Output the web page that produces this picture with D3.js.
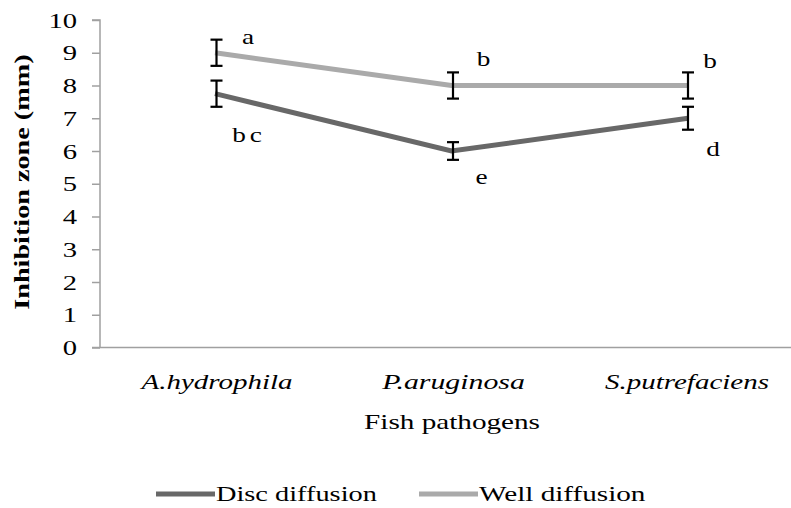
<!DOCTYPE html>
<html><head><meta charset="utf-8">
<script src="https://cdn.jsdelivr.net/npm/d3@7"></script>
<style>body{margin:0;background:#fff}svg{display:block}</style>
</head><body><svg id="c" width="791" height="508"></svg>
<script>
const categories = ["A.hydrophila", "P.aruginosa", "S.putrefaciens"];
const discValues = [7.75, 6.0, 7.0];
const discErrors = [0.4, 0.27, 0.35];
const discLetters = ["bc", "e", "d"];
const wellValues = [9.0, 8.0, 8.0];
const wellErrors = [0.4, 0.4, 0.4];
const wellLetters = ["a", "b", "b"];
const yTicks = [0,1,2,3,4,5,6,7,8,9,10];
const seriesNames = ["Disc diffusion", "Well diffusion"];

const svg = d3.select("#c");
const font = "Liberation Serif";
const SX = 1.33;
const x = d3.scalePoint().domain(categories).range([215, 688]);
const y = d3.scaleLinear().domain([0, 10]).range([347.5, 20]);

function txt(px, py, s, opts = {}) {
  return svg.append("text")
    .attr("transform", `translate(${px},${py}) scale(${opts.sx || SX},1)`)
    .attr("text-anchor", opts.anchor || "middle")
    .style("font-family", font).style("font-size", (opts.size || 21) + "px")
    .style("font-style", opts.italic ? "italic" : "normal")
    .style("font-weight", opts.bold ? "bold" : "normal")
    .style("letter-spacing", (opts.ls || 0) + "px")
    .style("fill", "#000")
    .text(s);
}

const series = [
  {name: seriesNames[0], values: discValues, errors: discErrors, letters: discLetters, color: "#686868"},
  {name: seriesNames[1], values: wellValues, errors: wellErrors, letters: wellLetters, color: "#aaaaaa"}
];

// y axis
const yAxis = d3.axisLeft(y).tickValues(yTicks).tickSize(8).tickFormat(d3.format("d"));
const gy = svg.append("g").attr("transform", "translate(100,0)").call(yAxis);
gy.select(".domain").attr("stroke", "#a0a0a0").attr("stroke-width", 1.5).attr("d", `M-8,${y(10)}H0V${y(0)}`);
gy.selectAll(".tick line").attr("stroke", "#a0a0a0").attr("stroke-width", 1.5);
gy.selectAll(".tick text").remove();
yTicks.forEach(v => txt(77, y(v) + 7.5, String(v), {anchor: "end", size: 22, sx: 1.3}));

// x axis line
svg.append("line").attr("x1", 92).attr("x2", 791).attr("y1", y(0)).attr("y2", y(0))
  .attr("stroke", "#a0a0a0").attr("stroke-width", 1.5);

// x labels
categories.forEach((c, i) => txt(x(c) + [2, 2, -1][i], 389, c, {italic: true, size: 21, sx: [1.38, 1.42, 1.38][i]}));
txt(452, 429, "Fish pathogens", {size: 20, sx: 1.46});
svg.append("text").attr("transform", `translate(29,${y(5.05)}) rotate(-90) scale(1.41,1)`)
  .attr("text-anchor", "middle").style("font-family", font).style("font-weight", "bold")
  .style("font-size", "20px").text("Inhibition zone (mm)");

// lines
const line = d3.line().x((d, i) => x(categories[i])).y(d => y(d));
series.forEach(s => {
  svg.append("path").attr("d", line(s.values)).attr("fill", "none")
    .attr("stroke", s.color).attr("stroke-width", 5);
});
// error bars
series.forEach(s => {
  s.values.forEach((v, i) => {
    const cx = x(categories[i]) + [1.5, 1.5, 0][i];
    const g = svg.append("g").attr("stroke", "#000").attr("stroke-width", 2.2);
    g.append("line").attr("x1", cx).attr("x2", cx).attr("y1", y(v + s.errors[i])).attr("y2", y(v - s.errors[i]));
    g.append("line").attr("x1", cx - 6).attr("x2", cx + 6).attr("y1", y(v + s.errors[i])).attr("y2", y(v + s.errors[i]));
    g.append("line").attr("x1", cx - 6).attr("x2", cx + 6).attr("y1", y(v - s.errors[i])).attr("y2", y(v - s.errors[i]));
  });
});
// letters
series.forEach((s, k) => {
  s.values.forEach((v, i) => {
    const dy = k === 0 ? [48, 33, 38][i] : [-9, -20, -18][i];
    const dx = k === 0 ? [34, 30, 25][i] : [33, 32, 22][i];
    txt(x(categories[i]) + dx, y(v) + dy, s.letters[i], {size: 21, sx: 1.3, ls: s.letters[i].length > 1 ? 3 : 0});
  });
});
// legend
const legX = [156, 419];
series.forEach((s, i) => {
  svg.append("line").attr("x1", legX[i]).attr("x2", legX[i] + 59).attr("y1", 494).attr("y2", 494)
    .attr("stroke", s.color).attr("stroke-width", 5);
  txt(legX[i] + 60, 501, s.name, {anchor: "start", size: 21, sx: [1.35, 1.39][i]});
});
</script></body></html>
